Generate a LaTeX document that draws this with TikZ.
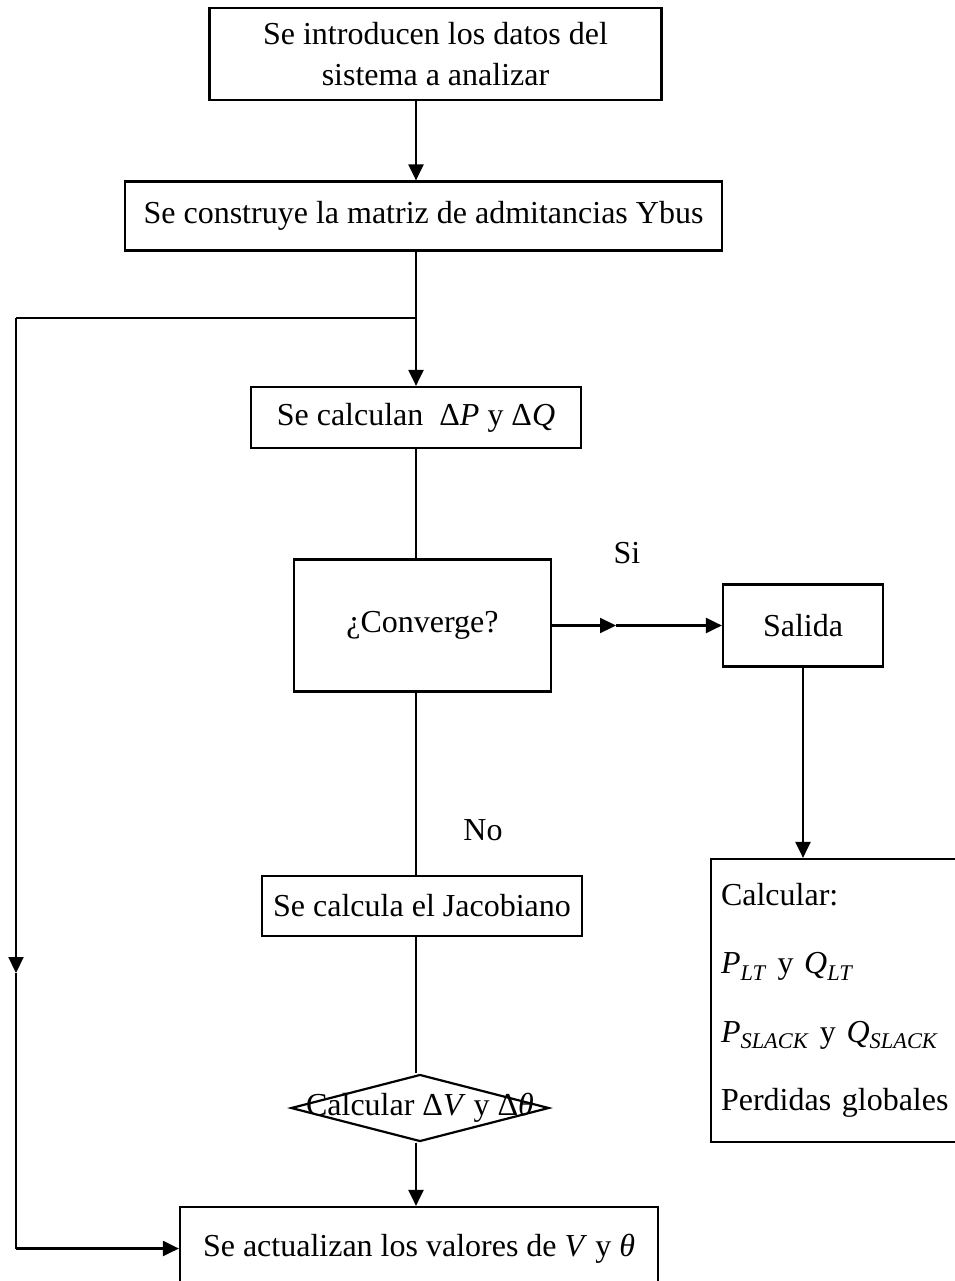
\documentclass[tikz,border=0pt]{standalone}
\usepackage{fontspec}
\setmainfont{Liberation Serif}
\usepackage{tikz}
\usetikzlibrary{shapes.geometric,arrows.meta,calc}
\tikzstyle{tsText} = [ 
    text=black, 
    font=\fontsize{32}{41}\selectfont
]
\tikzstyle{tsBox} = [ 
    rectangle,
    tsText,
    align=center,
    draw=black,
    line width=2.2pt]
\tikzstyle{tsDiamond} = [ 
    diamond,
    draw=black,
    inner sep=0pt,
    line width=2.2pt]
\tikzstyle{tsLine} = [ 
    draw=black,
    line width=2.2pt]
\tikzstyle{tsArrow} = [ 
    tsLine,
    -{Triangle[length=16pt,width=15pt]}]

\begin{document}
\begin{tikzpicture}[x=1pt, y=-1pt]

        \useasboundingbox (0,0) rectangle (954,1281);

        \node[tsBox, minimum width=452pt, minimum height=92pt] (datos) at (435.5,54)
                {Se introducen los datos del\\sistema a analizar};
        \node[tsBox, minimum width=597pt, minimum height=69pt] (ybus) at (423.5,216)
                {Se construye la matriz de admitancias Ybus};
        \node[tsBox, minimum width=330pt, minimum height=61pt] (deltas) at (416,417.5)
                {Se calculan\ \ Δ\textit{P} y Δ\textit{Q}};
        \node[tsBox, minimum width=257pt, minimum height=132pt] (converge) at (422.5,625.5)
                {¿Converge?};
        \node[tsBox, minimum width=160pt, minimum height=82pt] (salida) at (803,625.5)
                {Salida};
        \node[tsBox, align=left, text width=250pt, inner xsep=10pt,
                minimum height=283pt,
                font=\fontsize{32}{68.5}\selectfont] (resultados) at (846,1000.5)
                {Calcular:\\
                 \textit{P}\textsubscript{\textit{LT}} y \textit{Q}\textsubscript{\textit{LT}}\\
                 \textit{P}\textsubscript{\textit{SLACK}} y \textit{Q}\textsubscript{\textit{SLACK}}\\
                 Perdidas globales};
        \node[tsBox, minimum width=320pt, minimum height=60pt] (jacobiano) at (422,906)
                {Se calcula el Jacobiano};
        \node[tsDiamond, minimum width=258pt, minimum height=67pt,
                label={[tsText]center:{Calcular Δ\textit{V} y Δ\textit{θ}}}] (deltavt) at (420,1108) {};
        \node[tsBox, minimum width=478pt, minimum height=83pt] (actualizan) at (419,1248.5)
                {Se actualizan los valores de \textit{V} y \textit{θ}};

        \node[tsText] (si) at (627,553) {Si};
        \node[tsText] (no) at (483,830) {No};

        % lazo de vuelta por la izquierda
        \coordinate (split) at (416,318);
        \coordinate (lefttop) at (16,318);
        \coordinate (leftmid) at (16,973);
        \coordinate (leftbot) at (16,1248.5);
        \coordinate (simid) at (616,625.5);

        \draw[tsArrow] (datos.south -| deltas) -- (ybus.north -| deltas);
        \draw[tsArrow] (ybus.south -| deltas) -- (deltas.north);
        \draw[tsLine] (split) -- (lefttop);
        \draw[tsArrow] (lefttop) -- (leftmid);
        \draw[tsLine] (leftmid) -- (leftbot);
        \draw[tsArrow] (leftbot) -- (actualizan.west);

        \draw[tsLine] (deltas.south) -- (converge.north -| deltas);
        \draw[tsArrow] (converge.east) -- (simid);
        \draw[tsArrow] (simid) -- (salida.west);
        \draw[tsArrow] (salida.south) -- (salida.south |- resultados.north);

        \draw[tsLine] (converge.south -| deltas) -- (jacobiano.north -| deltas);
        \draw[tsLine] (jacobiano.south -| deltas) -- (deltavt.north -| deltas);
        \draw[tsArrow] (deltavt.south -| deltas) -- (actualizan.north -| deltas);

\end{tikzpicture}
\end{document}
